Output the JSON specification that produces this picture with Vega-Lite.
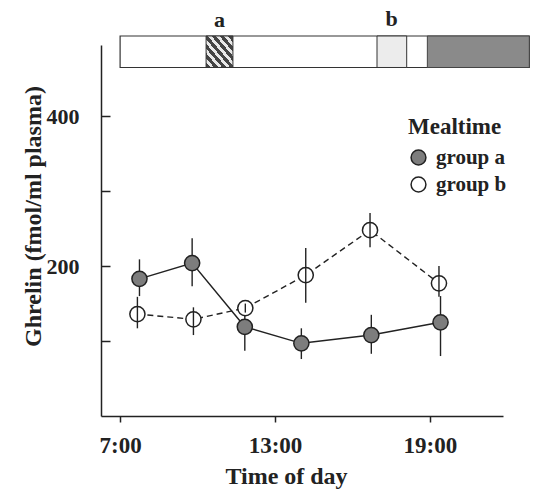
{
  "$schema": "https://vega.github.io/schema/vega-lite/v6.json",
  "width": 402,
  "height": 371,
  "autosize": {"type": "none"},
  "padding": {"left": 101, "top": 45, "right": 34, "bottom": 74},
  "background": "white",
  "config": {
    "view": {"stroke": null},
    "font": "Liberation Serif",
    "axis": {
      "grid": false,
      "domainColor": "#222",
      "domainWidth": 1.5,
      "tickColor": "#222",
      "tickWidth": 1.5,
      "labelFont": "Liberation Serif",
      "labelFontSize": 23,
      "labelFontWeight": "bold",
      "labelColor": "#222",
      "titleFont": "Liberation Serif",
      "titleFontSize": 24,
      "titleFontWeight": "bold",
      "titleColor": "#222"
    }
  },
  "datasets": {
    "series": [
      {"group": "group a", "time": 7.75, "ghrelin": 183, "lo": 160, "hi": 209},
      {"group": "group a", "time": 9.79, "ghrelin": 204, "lo": 173, "hi": 237},
      {"group": "group a", "time": 11.83, "ghrelin": 119, "lo": 87, "hi": 143},
      {"group": "group a", "time": 14.02, "ghrelin": 97, "lo": 76, "hi": 117},
      {"group": "group a", "time": 16.73, "ghrelin": 108, "lo": 83, "hi": 135},
      {"group": "group a", "time": 19.41, "ghrelin": 125, "lo": 80, "hi": 160},
      {"group": "group b", "time": 7.67, "ghrelin": 136, "lo": 117, "hi": 159},
      {"group": "group b", "time": 9.84, "ghrelin": 129, "lo": 108, "hi": 145},
      {"group": "group b", "time": 11.85, "ghrelin": 144, "lo": 138, "hi": 150},
      {"group": "group b", "time": 14.19, "ghrelin": 188, "lo": 151, "hi": 224},
      {"group": "group b", "time": 16.68, "ghrelin": 248, "lo": 225, "hi": 271},
      {"group": "group b", "time": 19.35, "ghrelin": 177, "lo": 159, "hi": 200}
    ],
    "bar": [{"start": 7.0, "end": 22.85, "lo": 465, "hi": 507}],
    "mealA": [{"label": "a", "start": 10.33, "end": 11.37, "mid": 10.85, "lo": 465, "hi": 507, "ty": 528}],
    "mealB": [{"label": "b", "start": 16.95, "end": 18.1, "mid": 17.52, "lo": 465, "hi": 507, "ty": 530}],
    "night": [{"start": 18.9, "end": 22.85, "lo": 465, "hi": 507}]
  },
  "layer": [
    {
      "data": {"name": "bar"},
      "mark": {"type": "rect", "fill": "white", "stroke": "#333", "strokeWidth": 1.2},
      "encoding": {
        "x": {
          "field": "start", "type": "quantitative", "title": "Time of day",
          "scale": {"domain": [6.26, 21.83], "nice": false, "zero": false},
          "axis": {
            "values": [7, 13, 19],
            "labelExpr": "datum.value + ':00'",
            "tickSize": 6,
            "labelPadding": 12,
            "titleX": 185,
            "titleY": 60,
            "titleAlign": "center",
            "titleBaseline": "middle"
          }
        },
        "x2": {"field": "end"},
        "y": {
          "field": "lo", "type": "quantitative", "title": "Ghrelin (fmol/ml plasma)",
          "scale": {"domain": [0, 495], "nice": false, "zero": true},
          "axis": {
            "values": [100, 200, 300, 400],
            "labelExpr": "datum.value % 200 === 0 ? datum.label : ''",
            "labelFontSize": 22,
            "tickSize": -9,
            "labelPadding": 31,
            "titleX": -68,
            "titleY": 171,
            "titleAngle": -90,
            "titleAlign": "center",
            "titleBaseline": "middle"
          }
        },
        "y2": {"field": "hi"}
      }
    },
    {
      "data": {"name": "mealA"},
      "mark": {
        "type": "rect", "stroke": "#333", "strokeWidth": 1,
        "fill": {
          "gradient": "linear", "x1": 0, "y1": 1, "x2": 1, "y2": 0,
          "stops": [
            {"offset": 0, "color": "#444"}, {"offset": 0.08, "color": "#444"},
            {"offset": 0.08, "color": "#e8e8e8"}, {"offset": 0.15, "color": "#e8e8e8"},
            {"offset": 0.15, "color": "#444"}, {"offset": 0.23, "color": "#444"},
            {"offset": 0.23, "color": "#e8e8e8"}, {"offset": 0.3, "color": "#e8e8e8"},
            {"offset": 0.3, "color": "#444"}, {"offset": 0.38, "color": "#444"},
            {"offset": 0.38, "color": "#e8e8e8"}, {"offset": 0.45, "color": "#e8e8e8"},
            {"offset": 0.45, "color": "#444"}, {"offset": 0.53, "color": "#444"},
            {"offset": 0.53, "color": "#e8e8e8"}, {"offset": 0.6, "color": "#e8e8e8"},
            {"offset": 0.6, "color": "#444"}, {"offset": 0.68, "color": "#444"},
            {"offset": 0.68, "color": "#e8e8e8"}, {"offset": 0.75, "color": "#e8e8e8"},
            {"offset": 0.75, "color": "#444"}, {"offset": 0.83, "color": "#444"},
            {"offset": 0.83, "color": "#e8e8e8"}, {"offset": 0.9, "color": "#e8e8e8"},
            {"offset": 0.9, "color": "#444"}, {"offset": 1, "color": "#444"}
          ]
        }
      },
      "encoding": {
        "x": {"field": "start", "type": "quantitative", "title": "Time of day"},
        "x2": {"field": "end"},
        "y": {"field": "lo", "type": "quantitative", "title": "Ghrelin (fmol/ml plasma)"},
        "y2": {"field": "hi"}
      }
    },
    {
      "data": {"name": "mealB"},
      "mark": {"type": "rect", "fill": "#ececec", "stroke": "#333", "strokeWidth": 1},
      "encoding": {
        "x": {"field": "start", "type": "quantitative", "title": "Time of day"},
        "x2": {"field": "end"},
        "y": {"field": "lo", "type": "quantitative", "title": "Ghrelin (fmol/ml plasma)"},
        "y2": {"field": "hi"}
      }
    },
    {
      "data": {"name": "night"},
      "mark": {"type": "rect", "fill": "#8a8a8a", "stroke": "#444", "strokeWidth": 1},
      "encoding": {
        "x": {"field": "start", "type": "quantitative", "title": "Time of day"},
        "x2": {"field": "end"},
        "y": {"field": "lo", "type": "quantitative", "title": "Ghrelin (fmol/ml plasma)"},
        "y2": {"field": "hi"}
      }
    },
    {
      "data": {"name": "mealA"},
      "mark": {"type": "text", "font": "Liberation Serif", "fontSize": 22, "fontWeight": "bold", "color": "#222", "baseline": "middle", "align": "center"},
      "encoding": {
        "x": {"field": "mid", "type": "quantitative", "title": "Time of day"},
        "y": {"field": "ty", "type": "quantitative", "title": "Ghrelin (fmol/ml plasma)"},
        "text": {"field": "label"}
      }
    },
    {
      "data": {"name": "mealB"},
      "mark": {"type": "text", "font": "Liberation Serif", "fontSize": 22, "fontWeight": "bold", "color": "#222", "baseline": "middle", "align": "center"},
      "encoding": {
        "x": {"field": "mid", "type": "quantitative", "title": "Time of day"},
        "y": {"field": "ty", "type": "quantitative", "title": "Ghrelin (fmol/ml plasma)"},
        "text": {"field": "label"}
      }
    },
    {
      "data": {"name": "series"},
      "transform": [{"filter": "datum.group === 'group a'"}],
      "mark": {"type": "line", "color": "#222", "strokeWidth": 1.4},
      "encoding": {
        "x": {"field": "time", "type": "quantitative", "title": "Time of day"},
        "y": {"field": "ghrelin", "type": "quantitative", "title": "Ghrelin (fmol/ml plasma)"}
      }
    },
    {
      "data": {"name": "series"},
      "transform": [{"filter": "datum.group === 'group b'"}],
      "mark": {"type": "line", "color": "#222", "strokeWidth": 1.4, "strokeDash": [6, 4]},
      "encoding": {
        "x": {"field": "time", "type": "quantitative", "title": "Time of day"},
        "y": {"field": "ghrelin", "type": "quantitative", "title": "Ghrelin (fmol/ml plasma)"}
      }
    },
    {
      "data": {"name": "series"},
      "transform": [{"filter": "datum.group === 'group a'"}],
      "mark": {"type": "rule", "color": "#222", "strokeWidth": 1.4},
      "encoding": {
        "x": {"field": "time", "type": "quantitative", "title": "Time of day"},
        "y": {"field": "lo", "type": "quantitative", "title": "Ghrelin (fmol/ml plasma)"},
        "y2": {"field": "hi"}
      }
    },
    {
      "data": {"name": "series"},
      "mark": {"type": "point", "shape": "circle", "filled": true, "stroke": "#222", "strokeWidth": 1.5, "size": 230, "opacity": 1},
      "encoding": {
        "x": {"field": "time", "type": "quantitative", "title": "Time of day"},
        "y": {"field": "ghrelin", "type": "quantitative", "title": "Ghrelin (fmol/ml plasma)"},
        "fill": {
          "field": "group", "type": "nominal",
          "scale": {"domain": ["group a", "group b"], "range": ["#7d7d7d", "#ffffff"]},
          "legend": {
            "title": "Mealtime",
            "orient": "none",
            "legendX": 307,
            "legendY": 71,
            "titleFont": "Liberation Serif",
            "titleFontSize": 23,
            "titleFontWeight": "bold",
            "titleColor": "#222",
            "titlePadding": 8,
            "labelFont": "Liberation Serif",
            "labelFontSize": 21,
            "labelFontWeight": "bold",
            "labelColor": "#222",
            "labelOffset": 7,
            "symbolType": "circle",
            "symbolSize": 220,
            "symbolStrokeColor": "#222",
            "symbolStrokeWidth": 1.5,
            "symbolOpacity": 1,
            "rowPadding": 5
          }
        }
      }
    },
    {
      "data": {"name": "series"},
      "transform": [{"filter": "datum.group === 'group b'"}],
      "mark": {"type": "rule", "color": "#222", "strokeWidth": 1.4},
      "encoding": {
        "x": {"field": "time", "type": "quantitative", "title": "Time of day"},
        "y": {"field": "lo", "type": "quantitative", "title": "Ghrelin (fmol/ml plasma)"},
        "y2": {"field": "hi"}
      }
    }
  ]
}
